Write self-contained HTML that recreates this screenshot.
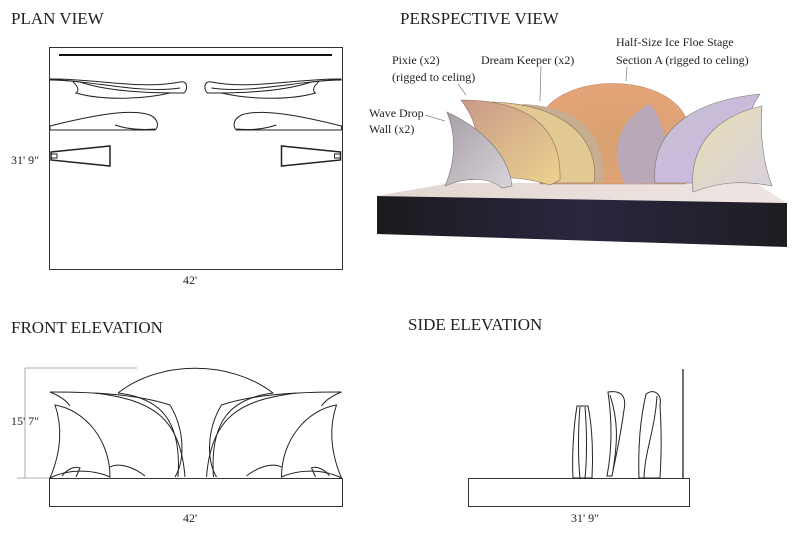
<!DOCTYPE html>
<html><head><meta charset="utf-8"><style>
html,body{margin:0;padding:0;background:#fff;}
svg{display:block;}
text{font-family:"Liberation Serif",serif;fill:#222;}
</style></head><body>
<svg width="800" height="542" viewBox="0 0 800 542" xmlns="http://www.w3.org/2000/svg">
<defs>
<linearGradient id="stf" x1="0" y1="0" x2="1" y2="0"><stop offset="0" stop-color="#1c1b1d"/><stop offset="0.5" stop-color="#2a2640"/><stop offset="1" stop-color="#1e1d22"/></linearGradient>
<linearGradient id="top" x1="0" y1="0" x2="1" y2="0"><stop offset="0" stop-color="#e2d6d0"/><stop offset="1" stop-color="#efe6e4"/></linearGradient>
<radialGradient id="dome" cx="0.5" cy="0.6" r="0.6"><stop offset="0" stop-color="#d8a070"/><stop offset="1" stop-color="#e3a478"/></radialGradient>
<linearGradient id="pix" x1="0" y1="0" x2="1" y2="1"><stop offset="0" stop-color="#c99a88"/><stop offset="1" stop-color="#ecd28e"/></linearGradient>
<linearGradient id="wav" x1="0" y1="0" x2="1" y2="1"><stop offset="0" stop-color="#a79ea8"/><stop offset="1" stop-color="#d8d4d8"/></linearGradient>
<linearGradient id="rp" x1="0" y1="0" x2="1" y2="1"><stop offset="0" stop-color="#c8c0d0"/><stop offset="1" stop-color="#cab8e6"/></linearGradient>
<linearGradient id="rw" x1="0" y1="0" x2="1" y2="1"><stop offset="0" stop-color="#e8e0b0"/><stop offset="1" stop-color="#d8d0e0"/></linearGradient>
</defs>

<!-- PLAN VIEW -->
<text x="11" y="24" font-size="17">PLAN VIEW</text>
<rect x="49.5" y="47.5" width="293" height="222" fill="none" stroke="#333" stroke-width="1"/>
<line x1="59" y1="55" x2="332" y2="55" stroke="#111" stroke-width="2"/>
<g fill="none" stroke="#222" stroke-width="1">
 <g id="pl">
  <path d="M50 79 C90 78 140 90 180 82 C188 80 188 90 184 93 C150 93 110 92 80 82 Z"/>
  <path d="M50 80 C90 80 140 94 180 88"/>
  <path d="M73 82 C80 88 78 92 76 93 C100 100 140 100 170 93"/>
  <path d="M50 126 C90 116 130 108 150 115 C160 120 158 128 155 130 L50 130 Z"/>
  <path d="M115 125 C130 130 145 130 155 129"/>
  <path d="M51 152 L110 146 L110 166 L51 160 Z" stroke-width="1.5"/>
  <path d="M51 154 L57 154 L57 158 L51 158"/>
 </g>
 <use href="#pl" transform="translate(391.5 0) scale(-1 1)"/>
</g>
<text x="11" y="164" font-size="12">31' 9"</text>
<text x="183" y="284" font-size="12">42'</text>

<!-- PERSPECTIVE -->
<text x="400" y="24" font-size="17">PERSPECTIVE VIEW</text>
<polygon points="377,196 450,183 756,183 787,203" fill="url(#top)"/>
<polygon points="377,196 787,203 787,247 377,234" fill="url(#stf)"/>
<path d="M540 118 C560 72 665 72 686 118 L686 184 L540 184 Z" fill="url(#dome)" stroke="#b8886a" stroke-width="0.6"/>
<path d="M522 104 C575 106 606 130 604 182 L594 183 C590 150 565 120 522 108 Z" fill="#c7ae90"/>
<path d="M492 102 C565 104 600 140 594 183 L540 183 C552 150 530 120 492 102 Z" fill="#e2c992" stroke="#8a7060" stroke-width="0.6"/>
<path d="M461 100 C525 100 562 125 560 180 L550 185 C522 176 495 176 470 180 C482 150 480 125 461 100 Z" fill="url(#pix)" stroke="#8a7060" stroke-width="0.6"/>
<path d="M447 112 C475 125 508 150 512 186 L502 188 C490 178 468 176 445 186 C456 160 456 135 447 112 Z" fill="url(#wav)" stroke="#777" stroke-width="0.6"/>
<path d="M650 104 C620 118 608 150 625 184 L665 183 C670 150 664 120 650 104 Z" fill="#b9a8b8"/>
<path d="M760 94 C700 100 650 125 655 183 L700 183 C722 176 742 174 758 180 C742 150 742 120 760 94 Z" fill="url(#rp)" stroke="#777" stroke-width="0.6"/>
<path d="M762 106 C722 115 688 140 693 192 C720 182 742 180 772 186 C762 160 760 130 762 106 Z" fill="url(#rw)" stroke="#777" stroke-width="0.6"/>
<g font-size="12">
<text x="616" y="46">Half-Size Ice Floe Stage</text>
<text x="616" y="64">Section A (rigged to celing)</text>
<text x="481" y="64">Dream Keeper (x2)</text>
<text x="392" y="64">Pixie (x2)</text>
<text x="392" y="81">(rigged to celing)</text>
<text x="369" y="117">Wave Drop</text>
<text x="369" y="133">Wall (x2)</text>
</g>
<g stroke="#888" stroke-width="0.8" fill="none">
<line x1="627" y1="67" x2="626" y2="81"/>
<line x1="541" y1="66" x2="540" y2="101"/>
<line x1="458" y1="84" x2="466" y2="95"/>
<line x1="425" y1="115" x2="445" y2="121"/>
</g>

<!-- FRONT ELEVATION -->
<text x="11" y="333" font-size="17">FRONT ELEVATION</text>
<g stroke="#999" stroke-width="0.8" fill="none">
<line x1="25" y1="368" x2="137" y2="368"/>
<line x1="25" y1="368" x2="25" y2="478"/>
<line x1="17" y1="478" x2="49" y2="478"/>
</g>
<text x="11" y="425" font-size="12">15' 7"</text>
<rect x="49.5" y="478.5" width="293" height="28" fill="none" stroke="#333"/>
<g fill="none" stroke="#222" stroke-width="1">
<path d="M118 393 C160 360 230 360 273 393"/>
<g id="fe">
 <path d="M50 392 C100 392 140 395 170 405 C185 430 185 460 175 477"/>
 <path d="M95 393 C150 400 180 415 185 477"/>
 <path d="M118 393 C160 398 182 420 178 477"/>
 <path d="M55 405 C85 410 110 440 110 477 C95 470 70 468 50 478 C62 450 62 425 55 405 Z"/>
 <path d="M50 392 C60 396 66 400 70 406"/>
 <path d="M110 467 C120 462 135 468 145 476"/>
 <path d="M62 476 C68 468 76 466 80 468 L76 477"/>
</g>
<use href="#fe" transform="translate(391.5 0) scale(-1 1)"/>
</g>
<text x="183" y="522" font-size="12">42'</text>

<!-- SIDE ELEVATION -->
<text x="408" y="330" font-size="17">SIDE ELEVATION</text>
<rect x="468.5" y="478.5" width="221" height="28" fill="none" stroke="#333"/>
<line x1="683" y1="369" x2="683" y2="478" stroke="#111" stroke-width="1.2"/>
<g fill="none" stroke="#222" stroke-width="1">
<path d="M577 406 L588 406 C593 430 593 460 592 478 L573 478 C572 460 573 430 577 406 Z"/>
<path d="M580 407 C578 430 578 460 580 478 M585 407 C587 430 587 460 585 478"/>
<path d="M608 392 C620 390 627 395 624 410 C620 440 616 455 612 476 L607 476 C612 450 612 420 608 392 Z"/>
<path d="M610 395 C618 420 618 440 613 470"/>
<path d="M646 394 C655 388 662 395 660 405 C662 440 661 460 660 478 L639 478 C638 450 640 420 646 394 Z"/>
<path d="M657 396 C655 430 645 450 644 478"/>
</g>
<text x="571" y="522" font-size="12">31' 9"</text>
</svg>
</body></html>
